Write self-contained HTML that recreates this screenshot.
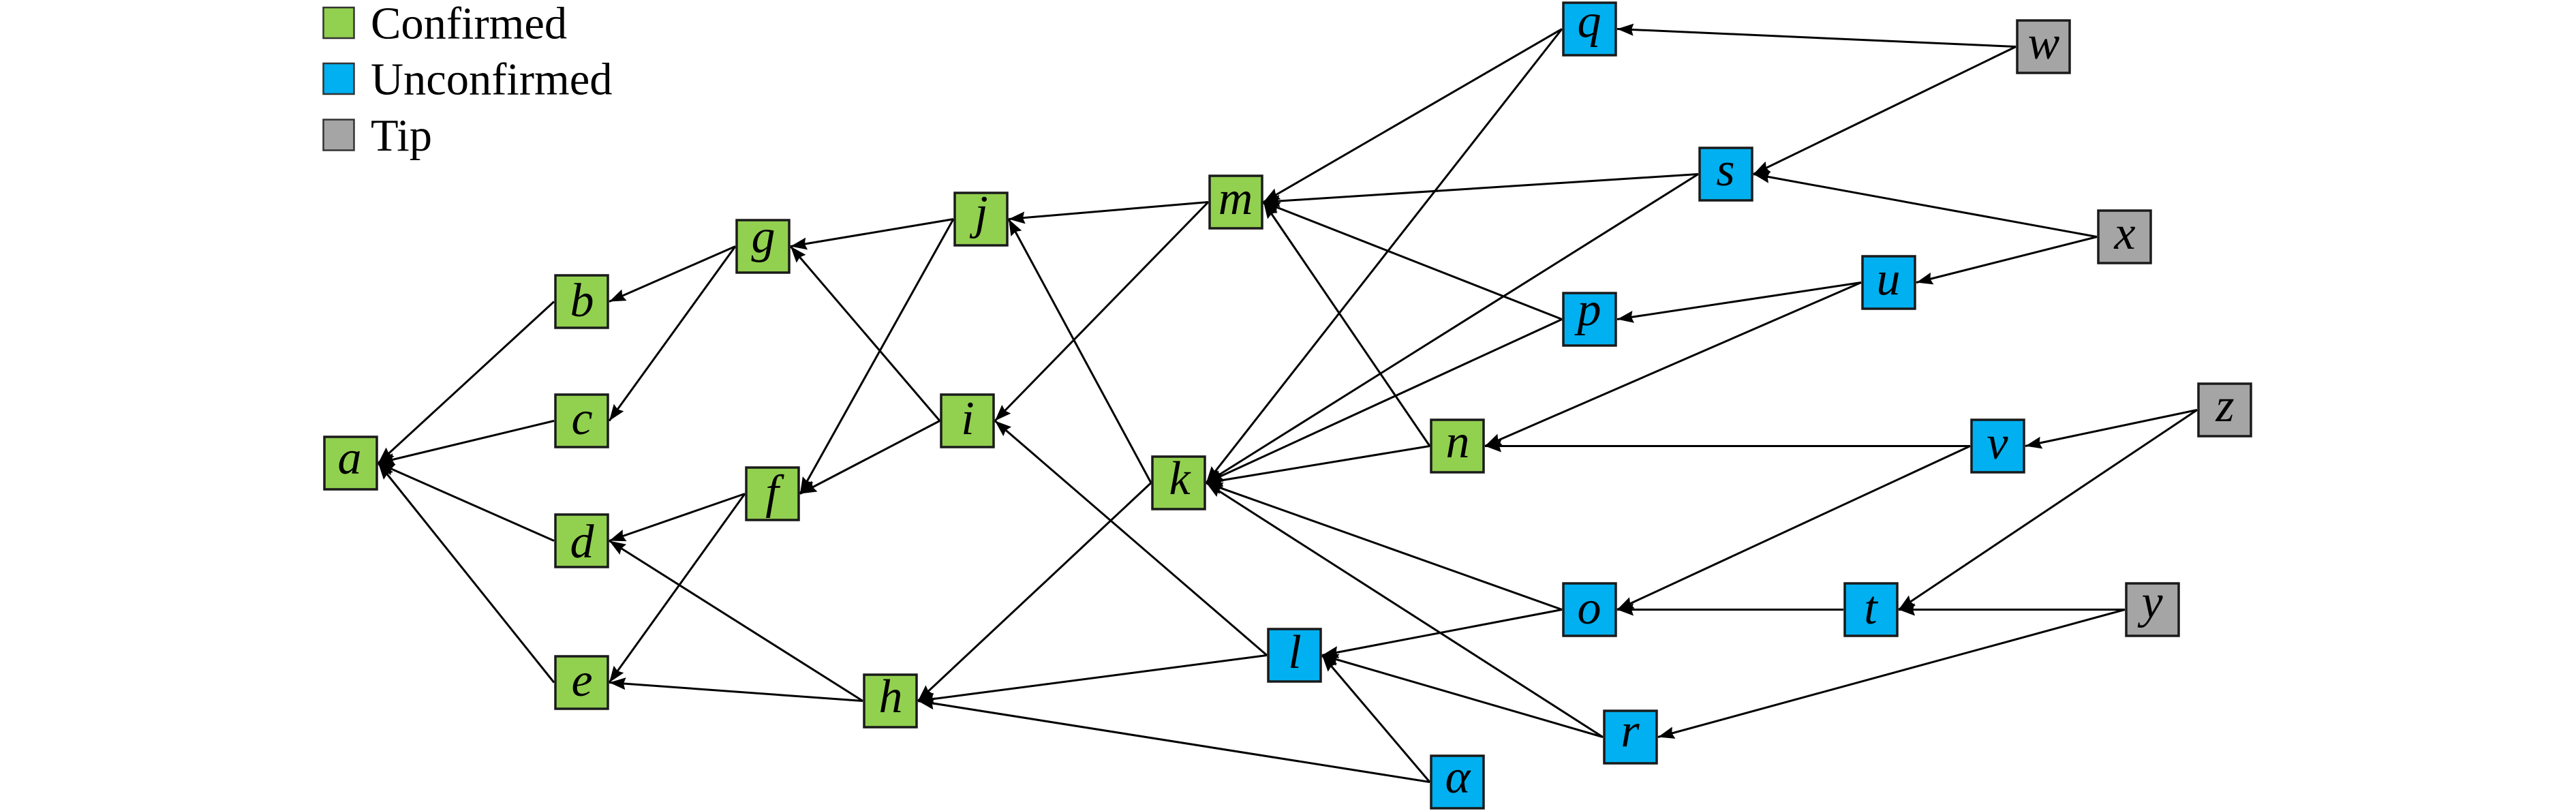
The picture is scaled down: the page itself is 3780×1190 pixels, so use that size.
<!DOCTYPE html>
<html lang="en">
<head>
<meta charset="utf-8">
<title>Tangle diagram</title>
<style>
html,body{margin:0;padding:0;background:#fff;width:3780px;height:1190px;overflow:hidden}
svg{display:block}
text{font-family:"Liberation Serif",serif;fill:#000;font-variant-ligatures:none}
.e line{stroke:#000;stroke-width:3;marker-end:url(#ah)}
.n rect{stroke:#1a1a1a;stroke-width:3.5}
.g rect{fill:#92D050}
.b rect{fill:#00B0F0}
.t rect{fill:#A5A5A5}
.n text{font-size:70px;font-style:italic;text-anchor:middle}
.l text{font-size:66.5px}
.l rect{stroke:#333;stroke-width:2.5}
</style>
</head>
<body>
<svg xmlns="http://www.w3.org/2000/svg" width="3780" height="1190" viewBox="0 0 3780 1190">
<defs>
<marker id="ah" markerUnits="userSpaceOnUse" markerWidth="26" markerHeight="20" refX="24" refY="9" orient="auto"><path d="M0 0L24 9L0 18L3 9Z" fill="#000"/></marker>
</defs>
<g class="l">
<rect x="474.5" y="11" width="45" height="45" fill="#92D050"/><text x="544" y="56.5">Confirmed</text>
<rect x="474.5" y="93" width="45" height="45" fill="#00B0F0"/><text x="544" y="138.5">Unconfirmed</text>
<rect x="474.5" y="175.5" width="45" height="45" fill="#A5A5A5"/><text x="544" y="220.8">Tip</text>
</g>
<g class="e">
<line x1="813" y1="442.5" x2="555" y2="679.5"/>
<line x1="813" y1="617.5" x2="555" y2="679.5"/>
<line x1="813" y1="793.5" x2="555" y2="679.5"/>
<line x1="813" y1="1001.5" x2="555" y2="679.5"/>
<line x1="1079" y1="361.5" x2="894" y2="442.5"/>
<line x1="1079" y1="361.5" x2="894" y2="617.5"/>
<line x1="1093" y1="724.5" x2="894" y2="793.5"/>
<line x1="1093" y1="724.5" x2="894" y2="1001.5"/>
<line x1="1266" y1="1028.5" x2="894" y2="793.5"/>
<line x1="1266" y1="1028.5" x2="894" y2="1001.5"/>
<line x1="1399" y1="321.5" x2="1160" y2="361.5"/>
<line x1="1379" y1="617.5" x2="1160" y2="361.5"/>
<line x1="1399" y1="321.5" x2="1174" y2="724.5"/>
<line x1="1379" y1="617.5" x2="1174" y2="724.5"/>
<line x1="1773" y1="296.5" x2="1480" y2="321.5"/>
<line x1="1689" y1="708.5" x2="1480" y2="321.5"/>
<line x1="1773" y1="296.5" x2="1460" y2="617.5"/>
<line x1="1859" y1="961.5" x2="1460" y2="617.5"/>
<line x1="1689" y1="708.5" x2="1347" y2="1028.5"/>
<line x1="1859" y1="961.5" x2="1347" y2="1028.5"/>
<line x1="2098" y1="1147.5" x2="1347" y2="1028.5"/>
<line x1="2292" y1="42.5" x2="1854" y2="296.5"/>
<line x1="2492" y1="255.5" x2="1854" y2="296.5"/>
<line x1="2292" y1="468.5" x2="1854" y2="296.5"/>
<line x1="2098" y1="654.5" x2="1854" y2="296.5"/>
<line x1="2292" y1="42.5" x2="1770" y2="708.5"/>
<line x1="2492" y1="255.5" x2="1770" y2="708.5"/>
<line x1="2292" y1="468.5" x2="1770" y2="708.5"/>
<line x1="2098" y1="654.5" x2="1770" y2="708.5"/>
<line x1="2292" y1="894.5" x2="1770" y2="708.5"/>
<line x1="2352" y1="1081.5" x2="1770" y2="708.5"/>
<line x1="2958" y1="68.5" x2="2373" y2="42.5"/>
<line x1="2958" y1="68.5" x2="2573" y2="255.5"/>
<line x1="3077" y1="347.5" x2="2573" y2="255.5"/>
<line x1="3077" y1="347.5" x2="2812" y2="414.5"/>
<line x1="2731" y1="414.5" x2="2373" y2="468.5"/>
<line x1="2731" y1="414.5" x2="2179" y2="654.5"/>
<line x1="2891" y1="654.5" x2="2179" y2="654.5"/>
<line x1="2891" y1="654.5" x2="2373" y2="894.5"/>
<line x1="3224" y1="601.5" x2="2972" y2="654.5"/>
<line x1="3224" y1="601.5" x2="2786" y2="894.5"/>
<line x1="2705" y1="894.5" x2="2373" y2="894.5"/>
<line x1="3118" y1="894.5" x2="2786" y2="894.5"/>
<line x1="3118" y1="894.5" x2="2433" y2="1081.5"/>
<line x1="2292" y1="894.5" x2="1940" y2="961.5"/>
<line x1="2352" y1="1081.5" x2="1940" y2="961.5"/>
<line x1="2098" y1="1147.5" x2="1940" y2="961.5"/>
</g>
<g class="n g">
<rect x="476" y="641" width="77" height="77"/><text x="513" y="695">a</text>
<rect x="815" y="404" width="77" height="77"/><text x="854" y="464">b</text>
<rect x="815" y="579" width="77" height="77"/><text x="854" y="637">c</text>
<rect x="815" y="755" width="77" height="77"/><text x="854" y="818">d</text>
<rect x="815" y="963" width="77" height="77"/><text x="854" y="1021">e</text>
<rect x="1095" y="686" width="77" height="77"/><text x="1133" y="745">f</text>
<rect x="1081" y="323" width="77" height="77"/><text x="1120" y="370">g</text>
<rect x="1268" y="990" width="77" height="77"/><text x="1307" y="1045">h</text>
<rect x="1381" y="579" width="77" height="77"/><text x="1420" y="637">i</text>
<rect x="1401" y="283" width="77" height="77"/><text x="1440" y="335">j</text>
<rect x="1691" y="670" width="77" height="77"/><text x="1731" y="725">k</text>
<rect x="1775" y="258" width="77" height="77"/><text x="1813" y="314">m</text>
<rect x="2100" y="616" width="77" height="77"/><text x="2139" y="671">n</text>
</g>
<g class="n b">
<rect x="1861" y="923" width="77" height="77"/><text x="1900" y="980">l</text>
<rect x="2294" y="856" width="77" height="77"/><text x="2332" y="915">o</text>
<rect x="2294" y="430" width="77" height="77"/><text x="2332" y="477">p</text>
<rect x="2294" y="4" width="77" height="77"/><text x="2332" y="54">q</text>
<rect x="2354" y="1043" width="77" height="77"/><text x="2392" y="1095">r</text>
<rect x="2494" y="217" width="77" height="77"/><text x="2532" y="272">s</text>
<rect x="2707" y="856" width="77" height="77"/><text x="2745" y="915">t</text>
<rect x="2733" y="376" width="77" height="77"/><text x="2771" y="432">u</text>
<rect x="2893" y="616" width="77" height="77"/><text x="2931" y="673">v</text>
<rect x="2100" y="1109" width="77" height="77"/><text x="2139" y="1163">α</text>
</g>
<g class="n t">
<rect x="2960" y="30" width="77" height="77"/><text x="2999" y="86">w</text>
<rect x="3079" y="309" width="77" height="77"/><text x="3118" y="365">x</text>
<rect x="3120" y="856" width="77" height="77"/><text x="3158" y="906">y</text>
<rect x="3226" y="563" width="77" height="77"/><text x="3265" y="618">z</text>
</g>
</svg>
</body>
</html>
